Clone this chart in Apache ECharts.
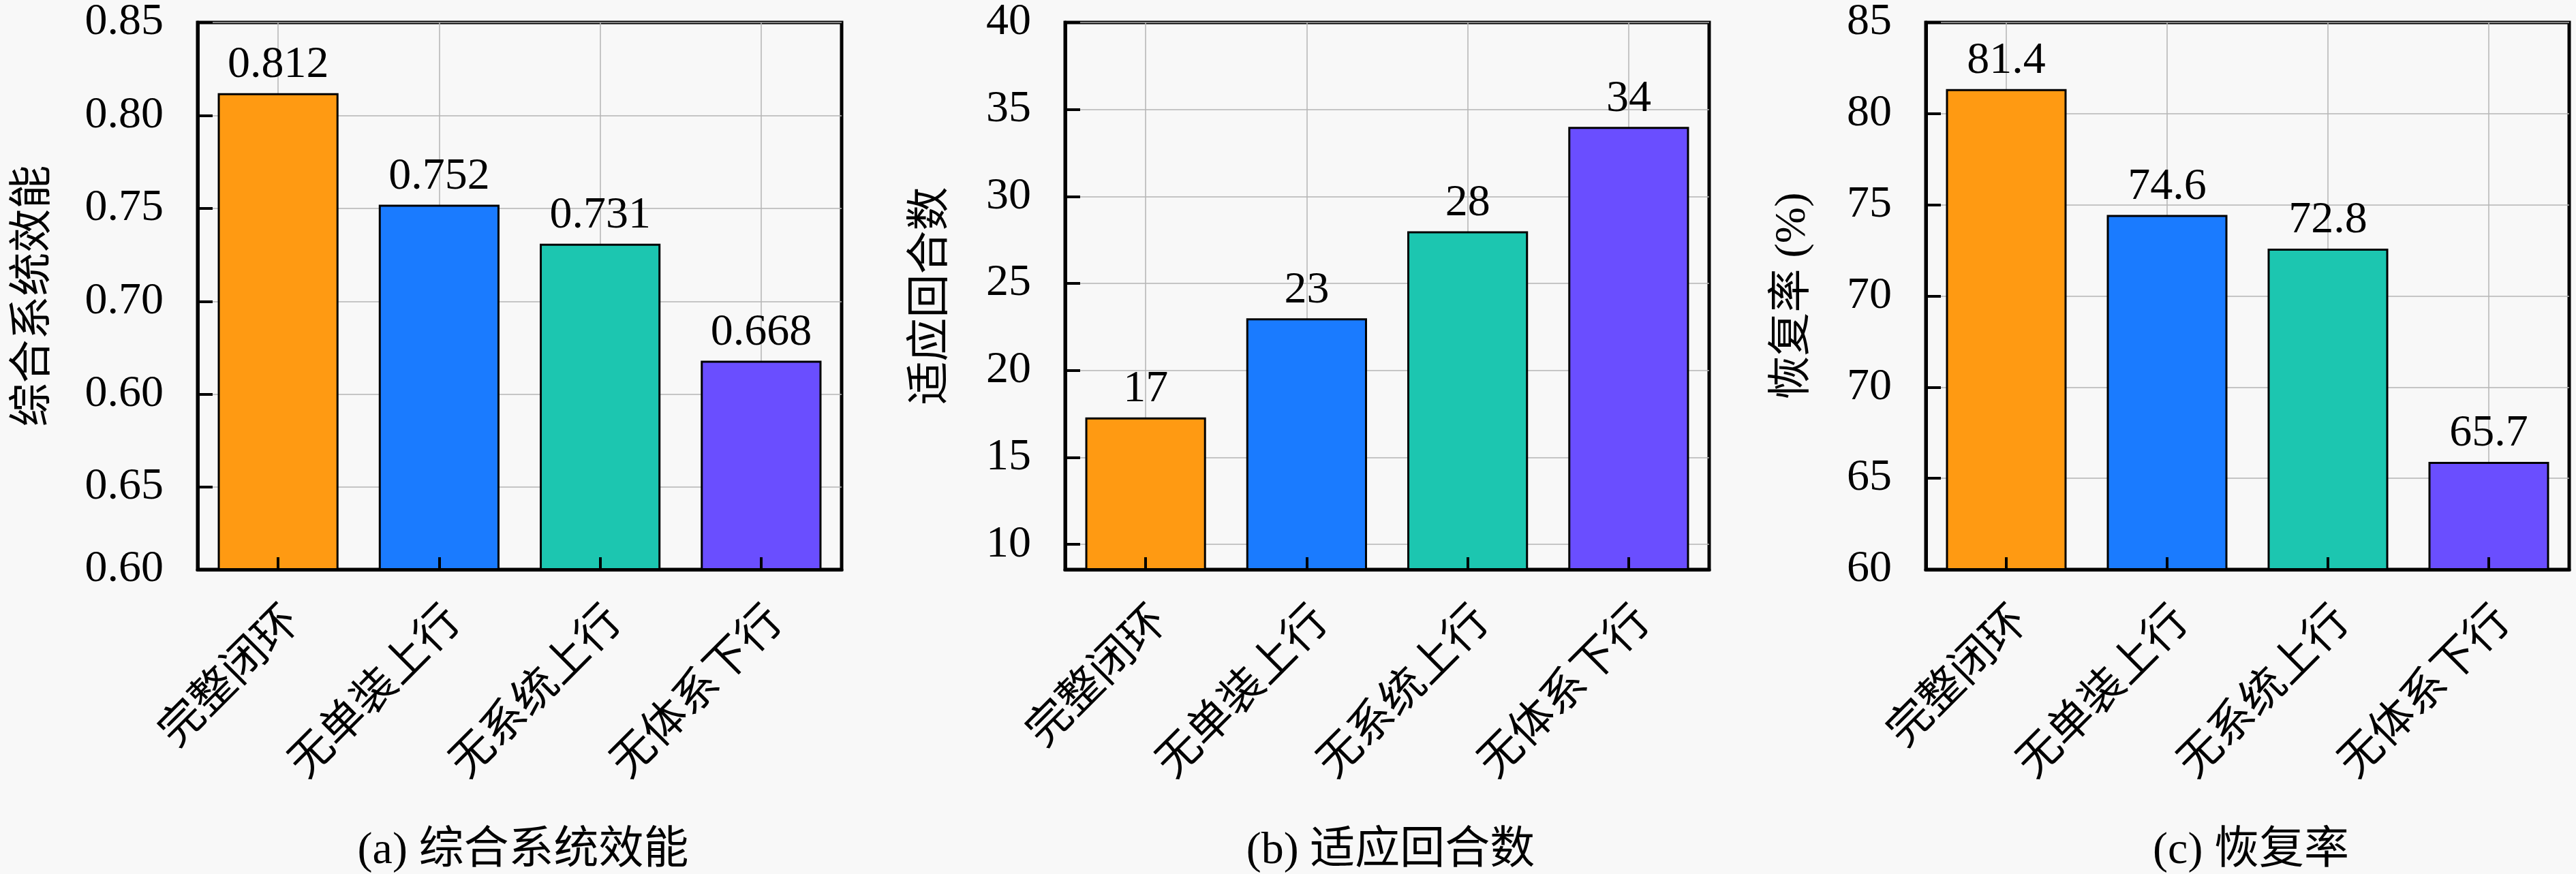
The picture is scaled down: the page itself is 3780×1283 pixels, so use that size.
<!DOCTYPE html>
<html>
<head>
<meta charset="utf-8">
<script src="https://cdn.jsdelivr.net/npm/echarts@6/dist/echarts.min.js"></script>
<style>
  html, body { margin: 0; padding: 0; background: #f8f8f8; }
  #chart { width: 3780px; height: 1283px; }
</style>
</head>
<body>
<div id="chart"></div>
<script>
// 类别与颜色
const categories = ["完整闭环", "无单装上行", "无系统上行", "无体系下行"];
const barColors = ["#FF9A12", "#1A7BFF", "#1CC6B0", "#6A4EFF"];

// (a) 综合系统效能
const effValues = [0.812, 0.752, 0.731, 0.668];
const effLabels = ["0.812", "0.752", "0.731", "0.668"];
const effTickValues = [0.5557, 0.6, 0.65, 0.7, 0.75, 0.8, 0.85];
const effTickLabels = ["0.60", "0.65", "0.60", "0.70", "0.75", "0.80", "0.85"];

// (b) 适应回合数
const roundValues = [17.3, 23, 28, 34];
const roundLabels = ["17", "23", "28", "34"];
const roundTickValues = [10, 15, 20, 25, 30, 35, 40];
const roundTickLabels = ["10", "15", "20", "25", "30", "35", "40"];

// (c) 恢复率
const recoveryValues = [81.35, 74.45, 72.6, 60.9];
const recoveryLabels = ["81.4", "74.6", "72.8", "65.7"];
const recoveryTickValues = [55, 60, 65, 70, 75, 80, 85];
const recoveryTickLabels = ["60", "65", "70", "70", "75", "80", "85"];

const font = "'Liberation Serif', 'Noto Sans CJK SC', serif";
const gridColor = "#b4b4b4";

const panels = [
  {
    left: 290, width: 945, min: 0.5557, max: 0.85,
    values: effValues, labels: effLabels,
    tickValues: effTickValues, tickLabels: effTickLabels,
    name: "综合系统效能", nameGap: 208, caption: "(a) 综合系统效能",
  },
  {
    left: 1563, width: 945, min: 8.56, max: 40,
    values: roundValues, labels: roundLabels,
    tickValues: roundTickValues, tickLabels: roundTickLabels,
    name: "适应回合数", nameGap: 164, caption: "(b) 适应回合数",
  },
  {
    left: 2826, width: 944, min: 55, max: 85,
    values: recoveryValues, labels: recoveryLabels,
    tickValues: recoveryTickValues, tickLabels: recoveryTickLabels,
    name: "恢复率 (%)", nameGap: 163, caption: "(c) 恢复率",
  },
];

const grids = [], xAxes = [], yAxes = [], series = [], titles = [];

panels.forEach((p, i) => {
  grids.push({
    left: p.left, top: 33, width: p.width, height: 803,
    show: true, borderColor: "#000", borderWidth: 5,
    backgroundColor: "transparent",
  });
  // 底层坐标轴：网格线和标签
  xAxes.push({
    gridIndex: i, type: "category", data: categories, position: "bottom",
    axisLine: { show: false },
    axisTick: { show: false, alignWithLabel: true },
    splitLine: { show: true, alignWithLabel: true, lineStyle: { color: gridColor, width: 1.5 } },
    axisLabel: {
      interval: 0, rotate: 45, align: "right", verticalAlign: "top",
      margin: 44, fontSize: 65, fontFamily: font, color: "#000",
    },
  });
  // 上层坐标轴：轴线和刻度
  xAxes.push({
    gridIndex: i, type: "category", data: categories, position: "bottom", z: 5,
    axisLine: { show: true, lineStyle: { color: "#000", width: 5 } },
    axisTick: { show: true, inside: true, alignWithLabel: true, length: 18, lineStyle: { color: "#000", width: 4 } },
    axisLabel: { show: false },
    splitLine: { show: false },
  });
  yAxes.push({
    gridIndex: i, type: "value", min: p.min, max: p.max, position: "left",
    name: p.name, nameLocation: "middle", nameGap: p.nameGap,
    nameTextStyle: { fontSize: 64, fontFamily: font, color: "#000" },
    axisLine: { show: false },
    axisTick: { show: false, customValues: p.tickValues },
    splitLine: { show: true, lineStyle: { color: gridColor, width: 1.5 } },
    axisLabel: {
      customValues: p.tickValues,
      formatter: (v) => {
        const k = p.tickValues.findIndex((t) => Math.abs(t - v) < 1e-6);
        return k >= 0 ? p.tickLabels[k] : "";
      },
      margin: 50, fontSize: 66, fontFamily: font, color: "#000",
    },
  });
  yAxes.push({
    gridIndex: i, type: "value", min: p.min, max: p.max, position: "left", z: 5,
    axisLine: { show: true, lineStyle: { color: "#000", width: 5 } },
    axisTick: { show: true, inside: true, length: 22, customValues: p.tickValues, lineStyle: { color: "#000", width: 4 } },
    axisLabel: { show: false },
    splitLine: { show: false },
  });
  series.push({
    type: "bar",
    xAxisIndex: 2 * i,
    yAxisIndex: 2 * i,
    barWidth: "75%",
    data: p.values.map((v, k) => ({ value: v, itemStyle: { color: barColors[k] } })),
    itemStyle: { borderColor: "#000", borderWidth: 3 },
    label: {
      show: true, position: "top", distance: 8,
      formatter: (prm) => p.labels[prm.dataIndex],
      fontSize: 66, fontFamily: font, color: "#000",
    },
  });
  titles.push({
    text: p.caption,
    left: p.left + p.width / 2, top: 1212, textAlign: "center",
    textStyle: { fontSize: 66, fontWeight: "normal", fontFamily: font, color: "#000" },
  });
});

const chart = echarts.init(document.getElementById("chart"));
chart.setOption({
  backgroundColor: "#f8f8f8",
  animation: false,
  title: titles,
  grid: grids,
  xAxis: xAxes,
  yAxis: yAxes,
  series: series,
});
</script>
</body>
</html>
